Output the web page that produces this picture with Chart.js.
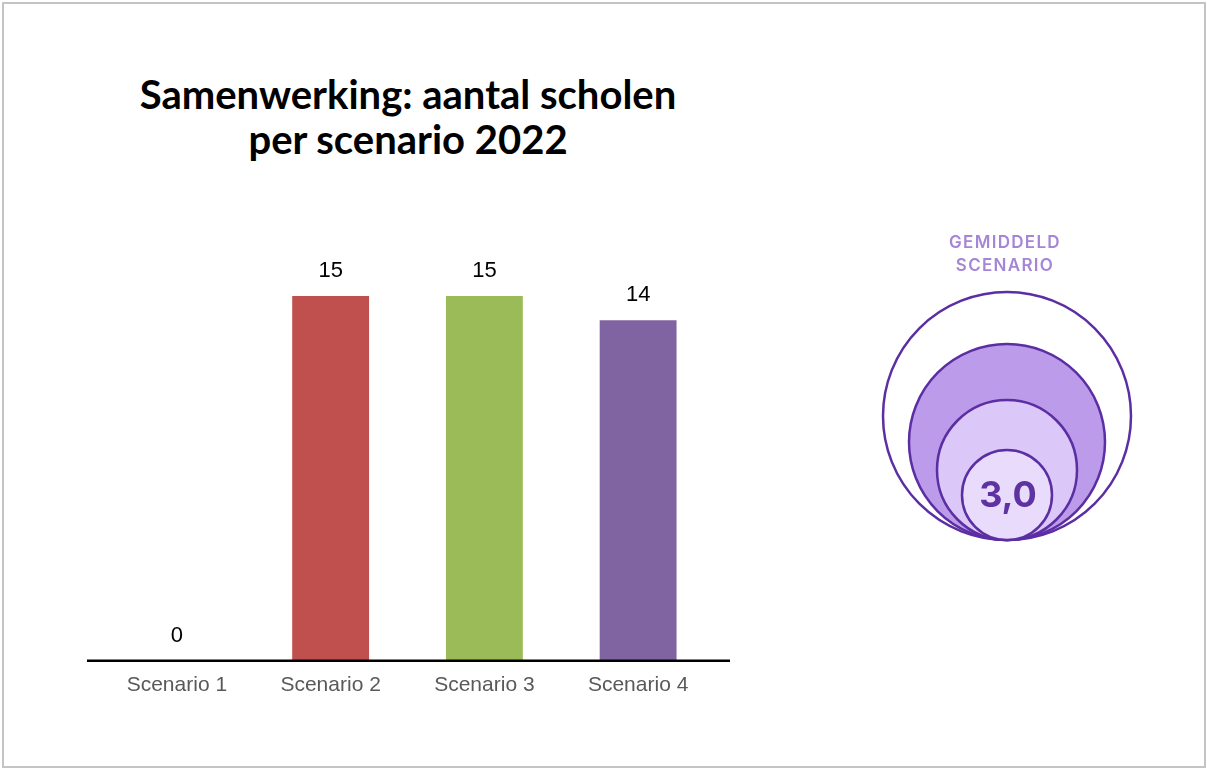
<!DOCTYPE html>
<html lang="nl">
<head>
<meta charset="utf-8">
<title>Samenwerking: aantal scholen per scenario 2022</title>
<script src="https://cdn.jsdelivr.net/npm/chart.js@4.4.1/dist/chart.umd.min.js"></script>
<style>
  html, body { margin: 0; padding: 0; background: #ffffff; }
  body { width: 1207px; height: 769px; position: relative; overflow: hidden; }
  .frame {
    position: absolute; left: 2px; top: 2px; width: 1204px; height: 766px;
    box-sizing: border-box; border: 2px solid #c4c4c4;
  }
  .title {
    position: absolute; left: 108px; top: 72px; width: 600px;
    text-align: center; font-family: 'Lato', sans-serif; font-weight: 700;
    font-size: 40px; line-height: 45px; color: #000000;
  }
  #chart { position: absolute; left: 0; top: 0; }
</style>
</head>
<body>
<div class="frame"></div>
<div class="title">Samenwerking: aantal scholen<br>per scenario 2022</div>
<canvas id="chart" width="1207" height="769"></canvas>
<script>
(function () {
  'use strict';

  const CATEGORIES = ['Scenario 1', 'Scenario 2', 'Scenario 3', 'Scenario 4'];
  const SCHOOL_COUNTS = [0, 15, 15, 14];
  const AVERAGE_SCENARIO = 3.0;
  const BADGE_LINES = ['GEMIDDELD', 'SCENARIO'];

  const BAR_COLORS = ['#4f81bd', '#c0504d', '#9bbb59', '#8064a2'];
  const LABEL_FONT = "'Liberation Sans', Arial, sans-serif";

  // value labels above each bar
  const valueLabels = {
    id: 'valueLabels',
    afterDatasetsDraw(chart) {
      const ctx = chart.ctx;
      const meta = chart.getDatasetMeta(0);
      ctx.save();
      ctx.font = '22px ' + LABEL_FONT;
      ctx.fillStyle = '#000000';
      ctx.textAlign = 'center';
      ctx.textBaseline = 'middle';
      meta.data.forEach((bar, i) => {
        ctx.fillText(String(SCHOOL_COUNTS[i]), bar.x, bar.y - 25);
      });
      ctx.restore();
    }
  };

  // black baseline, a little wider than the plot area
  const baseline = {
    id: 'baseline',
    afterDatasetsDraw(chart) {
      const { ctx, chartArea, scales } = chart;
      const y = scales.y.getPixelForValue(0);
      ctx.save();
      ctx.strokeStyle = '#000000';
      ctx.lineWidth = 2.5;
      ctx.beginPath();
      ctx.moveTo(chartArea.left - 13, y);
      ctx.lineTo(chartArea.right + 15, y);
      ctx.stroke();
      ctx.restore();
    }
  };

  // average-scenario badge on the right
  const averageBadge = {
    id: 'averageBadge',
    afterDraw(chart) {
      const ctx = chart.ctx;
      const cx = 1007;
      const bottom = 540;
      const rings = [
        { r: 124, fill: '#ffffff' },
        { r: 98, fill: '#bc9cea' },
        { r: 70, fill: '#dbc7f8' },
        { r: 45, fill: '#e8dbfb' }
      ];
      ctx.save();
      rings.forEach((ring) => {
        ctx.beginPath();
        ctx.arc(cx, bottom - ring.r, ring.r, 0, Math.PI * 2);
        ctx.fillStyle = ring.fill;
        ctx.fill();
        ctx.lineWidth = 2.5;
        ctx.strokeStyle = '#5b2ea3';
        ctx.stroke();
      });

      ctx.textAlign = 'center';
      ctx.textBaseline = 'middle';
      ctx.fillStyle = '#5e32a0';
      ctx.font = "700 36px 'Inter', sans-serif";
      ctx.fillText(AVERAGE_SCENARIO.toFixed(1).replace('.', ','), cx + 1, 496);

      ctx.fillStyle = '#a586d6';
      ctx.font = "600 17px 'Inter', sans-serif";
      ctx.letterSpacing = '1.3px';
      ctx.fillText(BADGE_LINES[0], cx - 2, 243);
      ctx.fillText(BADGE_LINES[1], cx - 2, 266);
      ctx.restore();
    }
  };

  new Chart(document.getElementById('chart'), {
    type: 'bar',
    data: {
      labels: CATEGORIES,
      datasets: [{
        data: SCHOOL_COUNTS,
        backgroundColor: BAR_COLORS,
        borderWidth: 0,
        categoryPercentage: 1,
        barPercentage: 0.5
      }]
    },
    options: {
      responsive: false,
      animation: false,
      layout: {
        padding: { left: 100, right: 492, top: 223, bottom: 59 }
      },
      scales: {
        x: {
          grid: { display: false, drawTicks: false },
          border: { display: false },
          ticks: {
            color: '#595959',
            padding: 12,
            font: { family: LABEL_FONT, size: 21 }
          }
        },
        y: {
          display: false,
          min: 0,
          max: 18
        }
      },
      plugins: {
        legend: { display: false },
        tooltip: { enabled: false }
      }
    },
    plugins: [valueLabels, baseline, averageBadge]
  });
})();
</script>
</body>
</html>
